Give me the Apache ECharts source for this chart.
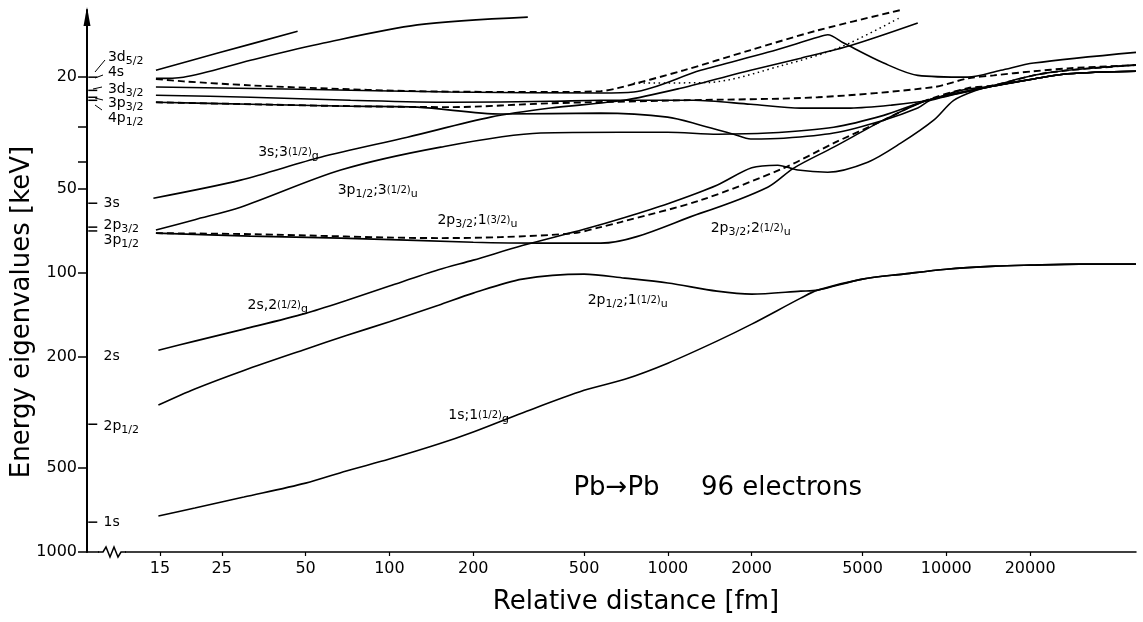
<!DOCTYPE html>
<html><head><meta charset="utf-8">
<script src="https://cdn.jsdelivr.net/npm/echarts@6/dist/echarts.min.js"></script>
<style>html,body{margin:0;padding:0;background:#fff}#c{width:1143px;height:622px}</style>
</head><body><div id="c"></div>
<script>
const FONT = 'DejaVu Sans';
// axis ticks
const xTickValues = [15, 25, 50, 100, 200, 500, 1000, 2000, 5000, 10000, 20000];
const yTickValues = [20, 30, 40, 50, 100, 200, 500, 1000];
const yLabelValues = [20, 50, 100, 200, 500, 1000];

// curves: [distance fm, energy keV]
const c1s = [[14.8,743],[20,696],[30,636],[50,567],[70,513],[100,465],[150,411],[200,372],[300,318],[500,264],[700,241],[1000,211],[1500,176],[2000,153],[3000,123.5],[3450,115.6],[5000,105.6],[7000,101.3],[10000,97.3],[15000,94.9],[20000,94.1],[30000,93.3],[48000,93.3]];
const c2p12 = [[14.8,298],[20,261],[30,224],[50,188],[70,168],[100,150],[150,131],[200,118.5],[300,105.6],[500,101.3],[700,104.7],[1000,109],[1500,116.6],[2000,119.5],[3000,116.6],[3450,115.6],[5000,105.6],[7000,101.3],[10000,97.3],[15000,94.9],[20000,94.1],[30000,93.3],[48000,93.3]];
const c2s = [[14.8,189.6],[20,176],[30,159.4],[50,140],[70,126],[100,111.8],[150,97.8],[200,90.3],[300,80.1],[500,70],[700,63.5],[1000,56.7],[1500,48.7],[2000,42.2],[2480,41.3],[2930,43.0],[3750,43.75],[5220,40.3],[6860,34.45],[9010,28.5],[10630,24.2],[12750,22.3],[14800,21.5],[20600,20.3],[27300,19.45],[48000,19.05]];
const c2p32u2 = [[14.5,72.3],[31.7,74.1],[66.8,75.3],[200,77.9],[349,78.5],[574,78.5],[1312,61.3],[2283,49.5],[2831,42.3],[3940,35.6],[5958,28.5],[8577,24.2],[14800,21.5],[20600,20.3],[27300,19.45],[48000,19.05]];
const c2p32u1 = [[14.5,72.3],[31.7,72.9],[152.8,75.3],[250.8,74.7],[458.8,72.3],[573.7,68.8],[676.7,66.0],[1312,55.1],[2606,42.3],[3940,34.45],[5958,28.5],[8094,24.6],[11940,21.9],[14800,21.4],[20600,19.7],[27300,18.9],[48000,18.1]];
const c3p12 = [[14.5,70.5],[20,64.7],[29.2,58.4],[66.8,43.0],[152.8,35.6],[349,31.7],[677,31.5],[998,31.5],[1510,32.0],[2283,31.7],[3940,30.2],[5958,27.4],[8577,24.2],[14800,21.4],[20600,19.7],[27300,18.9],[48000,18.1]];
const c3s = [[14.2,54.2],[29.2,46.7],[56.6,38.7],[116,32.8],[231,27.8],[379,25.8],[694,24.2],[1112,21.9],[1983,18.9],[3000,17.1],[4536,15.4],[7897,12.8]];
const c4p12 = [[14.5,24.6],[31.7,25.0],[72.5,25.4],[126,25.6],[251,27.1],[574,26.9],[998,27.8],[1312,29.7],[1723,32.0],[1983,33.3],[2606,33.1],[3940,31.7],[5958,28.5],[7897,25.8],[8790,24.2],[14800,21.5],[20600,20.3],[27300,19.45],[48000,19.05]];
const c3p32 = [[14.5,23.2],[31.7,23.6],[72.5,24.2],[166,24.6],[379,24.4],[574,24.2],[1238,24.2],[1983,25.0],[3000,25.8],[4536,25.8],[6315,25.2],[8577,24.2],[11260,22.3],[14800,21.5],[20600,20.3],[27300,19.45],[48000,19.05]];
const c3p32d = [[14.5,24.6],[31.7,25.0],[72.5,25.4],[166,25.6],[379,24.8],[1140,24.2],[3453,23.6],[9010,21.7],[11940,20.2],[14800,19.7],[20600,19.05],[27300,18.6],[48000,18.1]];
const c3d32 = [[14.5,21.7],[48,22.1],[166,22.6],[574,22.8],[754,22.6],[1312,18.9],[2283,16.3],[3453,14.4],[3750,14.1],[4281,15.1],[5958,17.8],[7897,19.7],[11940,20.0],[15680,18.9],[20600,17.8],[48000,16.3]];
const c4sd = [[14.5,20.3],[18.2,20.7],[31.7,21.4],[55.2,21.9],[126,22.45],[379,22.6],[574,22.45],[660,21.9],[1140,18.9],[1983,16.0],[3453,13.6],[6860,11.5]];
const cTop2 = [[14.5,20.2],[18.2,20.0],[31.7,17.4],[58,15.1],[126,13.0],[314,12.2]];
const cTop1 = [[14.5,18.9],[24.2,16.4],[46.8,13.7]];
const cDot = [[754,21.0],[1390,20.9],[2606,18.1],[4176,15.6],[6860,12.2]];

// united-atom level marks on the energy axis
const levelTickKeV = [20.0, 22.3, 23.6, 24.2, 56.5, 68.8, 71, 349, 782];
const levelNames = ['{n|3d}{d|5/2}','{n|4s}','{n|3d}{d|3/2}','{n|3p}{d|3/2}','{n|4p}{d|1/2}','{n|3s}','{n|2p}{d|3/2}','{n|3p}{d|1/2}','{n|2s}','{n|2p}{d|1/2}','{n|1s}'];
const levelLabelKeV = [16.97, 19.2, 22.1, 24.8, 28.0, 56.4, 67.7, 76.6, 199, 354, 785];

// curve names
const curveNames = ['{n|3s;3}{f|(1/2)}{d|g}','{n|3p}{d|1/2}{n|;3}{f|(1/2)}{d|u}','{n|2p}{d|3/2}{n|;1}{f|(3/2)}{d|u}','{n|2s,2}{f|(1/2)}{d|g}','{n|2p}{d|1/2}{n|;1}{f|(1/2)}{d|u}','{n|2p}{d|3/2}{n|;2}{f|(1/2)}{d|u}','{n|1s;1}{f|(1/2)}{d|g}','{big|Pb→Pb     96 electrons}'];
const curveNameAt = [[43.4,37.1],[90.7,50.7],[207,65.0],[39.7,130.9],[717,125.6],[1983,69.4],[209,324],[1510,590]];

const rich = {
  n: {fontSize: 14, fontFamily: FONT, color: '#000'},
  f: {fontSize: 10, fontFamily: FONT, color: '#000'},
  d: {fontSize: 11, fontFamily: FONT, color: '#000', padding: [8, 0, 0, 0]},
  big: {fontSize: 26, fontFamily: FONT, color: '#000'}
};

function line(data, dash, width) {
  return {type: 'line', data: data, symbol: 'none', smooth: 0.3, silent: true, animation: false,
    lineStyle: {color: '#000', width: width || 1.6, type: dash || 'solid'}};
}
const DASH = [7, 4];
const DOT = [1.5, 3.5];

const series = [
  line(c1s), line(c2p12), line(c2s), line(c2p32u2), line(c2p32u1, DASH, 1.9),
  line(c3p12), line(c3s), line(c4p12), line(c3p32), line(c3p32d, DASH, 1.9),
  line(c3d32), line(c4sd, DASH, 1.9), line(cTop2), line(cTop1), line(cDot, DOT, 1.5),
  {type: 'scatter', data: levelTickKeV.map(e => [8.6, e]), symbol: 'rect', symbolSize: [9, 1.5],
   itemStyle: {color: '#000', opacity: 1}, silent: true, animation: false},
  {type: 'scatter', data: levelLabelKeV.map((e, i) => [i < 5 ? 9.75 : 9.4, e]), symbolSize: 0, silent: true, animation: false,
   itemStyle: {color: '#000', opacity: 1},
   label: {show: true, position: 'right', distance: 0, color: '#000', opacity: 1, formatter: p => levelNames[p.dataIndex], rich: rich}},
  {type: 'scatter', data: curveNameAt, symbolSize: 0, silent: true, animation: false,
   itemStyle: {color: '#000', opacity: 1},
   label: {show: true, position: 'inside', color: '#000', opacity: 1, formatter: p => curveNames[p.dataIndex], rich: rich}}
];

const leaders = [[95,72,105,60],[95,78,103,75],[93,89,102,87],[95,98,103,100],[95,105,102,110]];
const graphic = [
  {type: 'polygon', shape: {points: [[87, 7], [83.5, 26], [90.5, 26]]}, style: {fill: '#000'}, z: 100},
  {type: 'rect', shape: {x: 99, y: 546, width: 26, height: 12}, style: {fill: '#fff'}, z: 100},
  {type: 'polyline', shape: {points: [[98,552],[103,552],[106,547],[110,557],[114,547],[118,557],[121,552],[126,552]]},
   style: {stroke: '#000', lineWidth: 1.5, fill: null}, z: 101},
  {type: 'text', x: 22, y: 312, rotation: Math.PI / 2, z: 100,
   style: {text: 'Energy eigenvalues [keV]', fontSize: 26, fontFamily: FONT, fill: '#000', align: 'center', verticalAlign: 'middle', textAlign: 'center', textVerticalAlign: 'middle'}},
  {type: 'text', x: 636, y: 602, z: 100,
   style: {text: 'Relative distance [fm]', fontSize: 26, fontFamily: FONT, fill: '#000', align: 'center', verticalAlign: 'middle', textAlign: 'center', textVerticalAlign: 'middle'}}
].concat(leaders.map(l => ({type: 'line', shape: {x1: l[0], y1: l[1], x2: l[2], y2: l[3]}, style: {stroke: '#000', lineWidth: 1}, z: 100})));

const plain = v => String(Math.round(v));

const chart = echarts.init(document.getElementById('c'), null, {renderer: 'canvas'});
chart.setOption({
  backgroundColor: '#fff',
  animation: false,
  grid: {left: 87, right: 7, top: 10, bottom: 70, containLabel: false, outerBoundsMode: 'none'},
  xAxis: {
    type: 'log', logBase: 10, min: 8.2, max: 48000,
    axisLine: {lineStyle: {color: '#000', width: 1.5}},
    axisTick: {customValues: xTickValues, length: 4, lineStyle: {color: '#000', width: 1.2}},
    axisLabel: {customValues: xTickValues, formatter: plain, fontSize: 16, fontFamily: FONT, color: '#000', margin: 9},
    splitLine: {show: false}, minorTick: {show: false}, minorSplitLine: {show: false}
  },
  yAxis: {
    type: 'log', logBase: 10, inverse: true, min: 11.5, max: 1000,
    axisLine: {lineStyle: {color: '#000', width: 2}},
    axisTick: {customValues: yTickValues, length: 9, lineStyle: {color: '#000', width: 1.5}},
    axisLabel: {customValues: yLabelValues, formatter: plain, fontSize: 16, fontFamily: FONT, color: '#000', margin: 10},
    splitLine: {show: false}, minorTick: {show: false}, minorSplitLine: {show: false}
  },
  graphic: graphic,
  series: series
});
</script>
</body></html>
